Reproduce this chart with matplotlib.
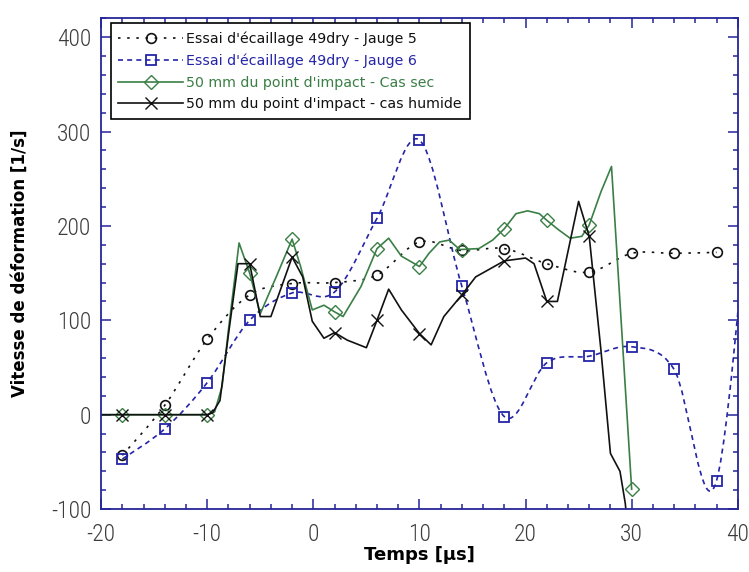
import matplotlib

matplotlib.use("Agg")
import matplotlib.pyplot as plt
import numpy as np
from matplotlib.lines import Line2D
from matplotlib.patches import PathPatch
from matplotlib.path import Path
from matplotlib.ticker import MultipleLocator

# --- data -----------------------------------------------------------------
# Essai d'écaillage 49dry - Jauge 5 (markers, smooth dotted curve)
t_j5 = [-18, -14, -10, -6, -2, 2, 6, 10, 14, 18, 22, 26, 30, 34, 38]
v_j5 = [-43, 10, 80, 127, 139, 140, 148, 183, 174, 176, 160, 151, 171, 171, 172]

# Essai d'écaillage 49dry - Jauge 6 (last point lies beyond the frame)
t_j6 = [-18, -14, -10, -6, -2, 2, 6, 10, 14, 18, 22, 26, 30, 34, 38, 42]
v_j6 = [-47, -15, 34, 100, 129, 130, 208, 291, 136, -2, 55, 62, 72, 48, -70, 360]

# 50 mm du point d'impact - Cas sec (line)
t_sec = [-20, -18, -14, -10, -9.3, -8.6, -8.0, -7.0, -6.0, -5.0, -3.5, -2.0,
         -1.2, -0.1, 1.0, 2.0, 2.8, 4.5, 6.0, 7.1, 8.3, 10.0, 10.9, 11.9,
         12.8, 13.8, 15.6, 16.9, 18.0, 19.1, 20.2, 21.3, 22.0, 23.1, 24.2,
         25.3, 26.0, 27.1, 28.1, 30.0]
v_sec = [0, 0, 0, 0, 3, 30, 90, 182, 150, 107, 146, 186,
         157, 111, 116, 109, 104, 136, 176, 187, 168, 157, 171, 183,
         185, 175, 176, 185, 197, 213, 216, 213, 206, 196, 187,
         189, 201, 236, 263, -79]
# markers of the same series
t_sec_m = [-18, -14, -10, -6, -2, 2, 6, 10, 14, 18, 22, 26, 30]
v_sec_m = [0, 0, 0, 150, 186, 109, 176, 157, 175, 197, 206, 201, -79]

# 50 mm du point d'impact - cas humide (line)
t_hum = [-20, -18, -14, -10, -9.5, -8.8, -8.0, -7.1, -6.0, -5.0, -4.0, -2.0,
         -1.0, -0.1, 1.0, 2.0, 3.2, 5.0, 6.0, 7.1, 8.3, 10.0, 11.1, 12.3,
         14.0, 15.3, 18.0, 20.0, 20.8, 22.0, 23.0, 25.0, 26.0, 27.1, 28.0,
         28.9, 29.4, 29.7]
v_hum = [0, 0, 0, 0, 2, 15, 85, 160, 160, 104, 104, 167,
         146, 99, 81, 87, 79, 71, 100, 133, 111, 86, 74, 104,
         127, 146, 163, 166, 160, 120, 120, 226, 189, 69, -41,
         -60, -94, -130]
t_hum_m = [-18, -14, -10, -6, -2, 2, 6, 10, 14, 18, 22, 26]
v_hum_m = [0, 0, 0, 160, 167, 87, 100, 86, 127, 163, 120, 189]

BLACK = "#111111"
BLUE = "#2424a8"
GREEN = "#3a7f45"
FRAME = "#25259a"
TICKTXT = "#3c3c3c"

plt.rcParams["font.family"] = ["DejaVu Sans"]
plt.rcParams["axes.unicode_minus"] = False


def smooth_path(x, y):
    """Catmull-Rom curve through the points, as cubic Bezier segments."""
    p = np.column_stack([x, y]).astype(float)
    p = np.vstack([p[0], p, p[-1]])
    verts = [p[1]]
    codes = [Path.MOVETO]
    for i in range(1, len(p) - 2):
        c1 = p[i] + (p[i + 1] - p[i - 1]) / 6
        c2 = p[i + 1] - (p[i + 2] - p[i]) / 6
        verts += [c1, c2, p[i + 1]]
        codes += [Path.CURVE4] * 3
    return Path(verts, codes)


fig = plt.figure(figsize=(7.49, 5.72), dpi=100)
ax = fig.add_axes([0.135, 0.110, 0.850, 0.858])

# smooth curves for the two test gauges
ax.add_patch(PathPatch(smooth_path(t_j5, v_j5), fill=False, ec=BLACK, lw=1.2,
                       ls=(0, (1.5, 4))))
ax.add_patch(PathPatch(smooth_path(t_j6, v_j6), fill=False, ec=BLUE, lw=1.2,
                       ls=(0, (3, 2.5))))
ax.plot(t_j5, v_j5, ls="none", marker="o", ms=7, mfc="none", mec=BLACK, mew=1.2)
ax.plot(t_j6, v_j6, ls="none", marker="s", ms=7.5, mfc="none", mec=BLUE, mew=1.3)

# simulated curves
ax.plot(t_sec, v_sec, color=GREEN, lw=1.2)
ax.plot(t_sec_m, v_sec_m, ls="none", marker="D", ms=7, mfc="none", mec=GREEN, mew=1.0)
ax.plot(t_hum, v_hum, color=BLACK, lw=1.2)
ax.plot(t_hum_m, v_hum_m, ls="none", marker="x", ms=9, mec=BLACK, mew=1.0)

ax.set_xlim(-20, 40)
ax.set_ylim(-100, 420)
ax.xaxis.set_major_locator(MultipleLocator(10))
ax.xaxis.set_minor_locator(MultipleLocator(2))
ax.yaxis.set_minor_locator(MultipleLocator(20))
ax.set_yticks([-100, 0, 100, 200, 300, 400])

for s in ax.spines.values():
    s.set_color(FRAME)
    s.set_linewidth(1.3)
ax.tick_params(which="both", direction="in", top=True, right=True, color=FRAME,
               width=1.1)
ax.tick_params(which="major", length=7, labelsize=17, labelcolor=TICKTXT)
ax.tick_params(axis="x", which="major", pad=10)
ax.tick_params(axis="y", which="major", pad=7)
ax.tick_params(which="minor", length=3.5)
for lab in ax.get_xticklabels() + ax.get_yticklabels():
    lab.set_family(["Roboto Condensed", "Archivo Narrow", "DejaVu Sans"])
    lab.set_fontweight("light")

ax.set_xlabel("Temps [µs]", fontsize=13, fontweight="bold", labelpad=0)
ax.set_ylabel("Vitesse de déformation [1/s]", fontsize=12, fontweight="bold",
              labelpad=16)

handles = [
    Line2D([], [], color=BLACK, lw=1.2, ls=(0, (1.5, 4)), marker="o", ms=7,
           mfc="none", mew=1.2),
    Line2D([], [], color=BLUE, lw=1.2, ls=(0, (3, 2.5)), marker="s", ms=7.5,
           mfc="none", mew=1.3),
    Line2D([], [], color=GREEN, lw=1.2, marker="D", ms=7, mfc="none", mew=1.0),
    Line2D([], [], color=BLACK, lw=1.2, marker="x", ms=9, mew=1.0),
]
labels = [
    "Essai d'écaillage 49dry - Jauge 5",
    "Essai d'écaillage 49dry - Jauge 6",
    "50 mm du point d'impact - Cas sec",
    "50 mm du point d'impact - cas humide",
]
leg = ax.legend(handles, labels, loc="upper left", bbox_to_anchor=(0.007, 1.0),
                borderaxespad=0.35, fontsize=10.2, handlelength=4.6,
                handletextpad=0.2, labelspacing=0.55, borderpad=0.55,
                fancybox=False, framealpha=1)
leg.get_frame().set_edgecolor("black")
leg.get_frame().set_linewidth(1.2)
for txt, col in zip(leg.get_texts(), [BLACK, BLUE, GREEN, BLACK]):
    txt.set_color(col)

fig.savefig("out.png", dpi=100)
